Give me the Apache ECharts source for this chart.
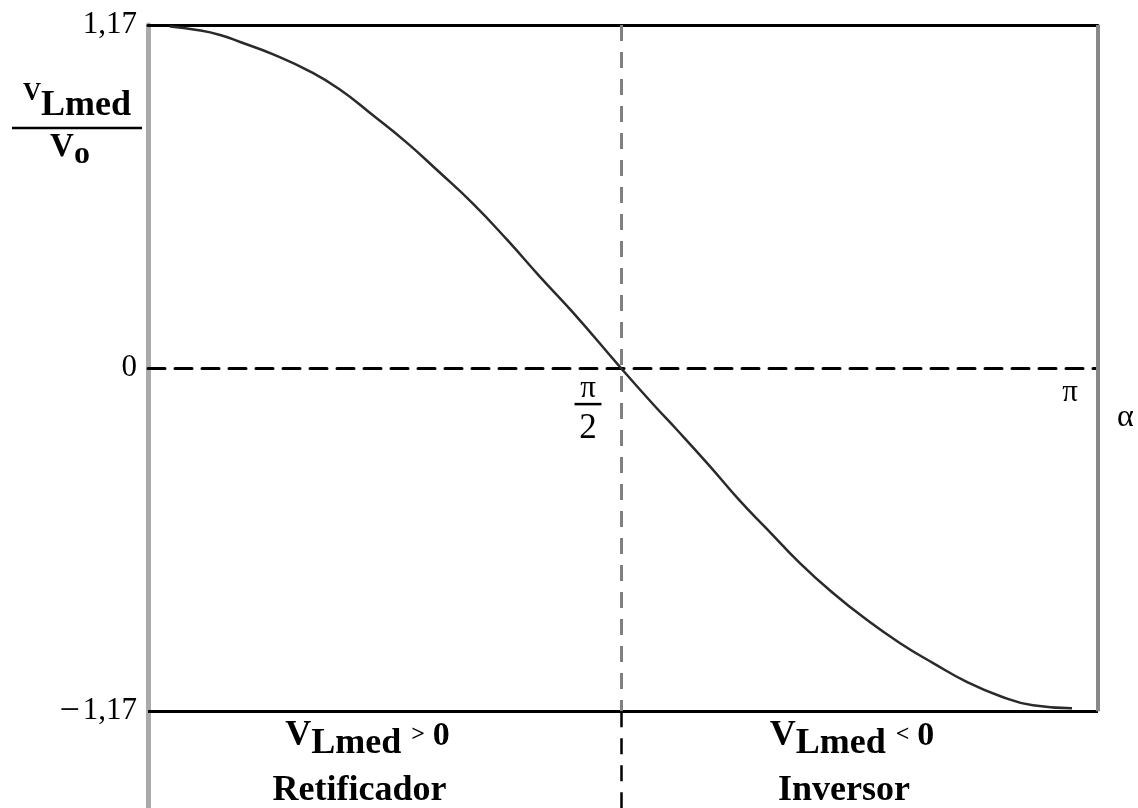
<!DOCTYPE html>
<html><head><meta charset="utf-8">
<script src="https://cdn.jsdelivr.net/npm/echarts@6/dist/echarts.min.js"></script>
<style>html,body{margin:0;padding:0;background:#fff;}#c{width:1138px;height:808px;}</style>
</head><body><div id="c"></div>
<script>
// alpha in degrees (π = 180)
const alphaDeg = [0, 5.4, 10.0, 14.0, 20.6, 27.9, 33.9, 40.5, 47.3, 53.5, 60.5, 67.3, 73.8, 80.4, 90, 96.5, 101.2, 107.5, 113.7, 119.1, 125.7, 132.3, 139.1, 145.7, 152.3, 159.0, 165.6, 172.2, 180];
const vRatio   = [1.165, 1.153, 1.136, 1.112, 1.070, 1.012, 0.950, 0.862, 0.768, 0.672, 0.560, 0.437, 0.312, 0.190, 0, -0.125, -0.211, -0.330, -0.452, -0.548, -0.665, -0.767, -0.859, -0.938, -1.006, -1.070, -1.118, -1.150, -1.160];
const xTickValues = [90, 180];
const xTickLabels = ['π/2', 'π'];
const yTickValues = [-1.17, 0, 1.17];
const yTickLabels = ['−1,17', '0', '1,17'];
const regionBounds = [[-4.39, 90], [90, 185.19]];
const regionSigns  = ['>', '<'];
const regionNames  = ['Retificador', 'Inversor'];
const axisName = 'α';

const X_MIN = -4.39, X_MAX = 185.19, Y_MIN = -1.50, Y_MAX = 1.17;
const SERIF = '"Liberation Serif", "Times New Roman", serif';

const chart = echarts.init(document.getElementById('c'), null, {renderer: 'canvas'});

function findIdx(arr, v) { return arr.findIndex(a => Math.abs(a - v) < 1e-6); }

const regionOffsets = [[-21, 9], [-11.5, 9]];

function tickLabel(lab) {
  if (lab.indexOf('/') >= 0) {
    const p = lab.split('/');
    return '{n|' + p[0] + '}{sp|}\n{b|}{sp|}\n{d|' + p[1] + '}{sp|}';
  }
  return '{p|' + lab + '}';
}

function yLabel(v) {
  const lab = yTickLabels[findIdx(yTickValues, v)] || '';
  if (lab.charAt(0) === '−') return '{m|−}' + lab.slice(1);
  return lab;
}

const option = {
  animation: false,
  textStyle: {fontFamily: SERIF, color: '#000'},
  grid: {left: 148, right: 40, top: 25, bottom: 0, containLabel: false, outerBoundsMode: 'none'},
  xAxis: [{
    type: 'value', min: X_MIN, max: X_MAX,
    axisLine: {show: true, onZero: true, lineStyle: {color: '#000', width: 3, type: [17, 10]}},
    axisTick: {show: false},
    splitLine: {show: false},
    axisLabel: {show: false}
  }, {
    type: 'value', min: X_MIN, max: X_MAX, position: 'top',
    axisLine: {show: true, onZero: false, lineStyle: {color: '#000', width: 3}},
    axisTick: {show: false}, axisLabel: {show: false}, splitLine: {show: false}
  }],
  yAxis: {
    type: 'value', min: Y_MIN, max: Y_MAX,
    axisLine: {show: true, onZero: false, lineStyle: {color: '#aaaaaa', width: 5}},
    axisTick: {show: false},
    splitLine: {show: false},
    axisLabel: {
      customValues: yTickValues,
      margin: 11,
      fontFamily: SERIF, fontSize: 31, color: '#000',
      formatter: yLabel,
      rich: {m: {fontFamily: SERIF, fontSize: 36, color: '#000', padding: [0, 3, 0, 0]}}
    }
  },
  graphic: [{
    type: 'text', x: 77, y: 86,
    style: {
      text: '{v|V}{s|Lmed}\n{b|}\n{v2|V}{o|o}',
      align: 'center', verticalAlign: 'top',
      rich: {
        v: {fontFamily: SERIF, fontSize: 25, fontWeight: 'bold', lineHeight: 25, padding: [0, 0, 25, 0], fill: '#000'},
        s: {fontFamily: SERIF, fontSize: 36, fontWeight: 'bold', lineHeight: 40, fill: '#000'},
        b: {width: 130, height: 2.5, backgroundColor: '#000', lineHeight: 4},
        v2: {fontFamily: SERIF, fontSize: 33, fontWeight: 'bold', lineHeight: 34, fill: '#000'},
        o: {fontFamily: SERIF, fontSize: 32, fontWeight: 'bold', lineHeight: 34, padding: [15, 14, 0, 0], fill: '#000'}
      }
    }
  }, {
    type: 'text', x: 1117, y: 418,
    style: {text: axisName, font: '32px ' + SERIF, fill: '#000', align: 'left', verticalAlign: 'middle'}
  }],
  series: [{
    type: 'line',
    data: alphaDeg.map((a, i) => [a, vRatio[i]]),
    showSymbol: false, smooth: true, clip: false, silent: true,
    lineStyle: {color: '#2a2a2a', width: 2.5},
    markPoint: {
      silent: true, symbol: 'circle', symbolSize: 0,
      itemStyle: {color: 'rgba(0,0,0,0)'},
      label: {
        show: true, position: 'bottom', distance: 0,
        formatter: function (p) { return tickLabel(p.name); },
        rich: {
          n: {fontFamily: SERIF, fontSize: 31, lineHeight: 35, padding: [6, 0, 0, 0], color: '#000'},
          b: {width: 27, height: 2.5, backgroundColor: '#000', lineHeight: 2},
          d: {fontFamily: SERIF, fontSize: 35, lineHeight: 48, color: '#000'},
          sp: {width: 66, height: 2, lineHeight: 2},
          p: {fontFamily: SERIF, fontSize: 31, lineHeight: 49, color: '#000', padding: [0, 4, 0, 0]}
        }
      },
      data: xTickValues.map((v, i) => ({name: xTickLabels[i], coord: [v, 0]}))
    },
    markLine: {
      symbol: 'none', silent: true, label: {show: false},
      data: [
        {yAxis: -1.17, lineStyle: {color: '#000', width: 3, type: 'solid'}},
        [{coord: [90, Y_MAX], lineStyle: {color: '#808080', width: 3, type: [16, 11]}}, {coord: [90, -1.17]}],
        [{coord: [90, -1.17], lineStyle: {color: '#000', width: 2.5, type: [16, 11]}}, {coord: [90, Y_MIN]}],
        [{coord: [X_MAX, Y_MAX], lineStyle: {color: '#888', width: 4, type: 'solid'}}, {coord: [X_MAX, -1.17]}]
      ]
    },
    markArea: {
      silent: true,
      itemStyle: {color: 'rgba(0,0,0,0)'},
      data: regionBounds.map((r, i) => [
        {xAxis: r[0], yAxis: -1.17,
         label: {show: true, position: 'inside', offset: regionOffsets[i],
           formatter: '{v|V}{s|Lmed}{g|' + regionSigns[i] + '}{z|0}\n{t|' + regionNames[i] + '}',
           rich: {
             v: {fontFamily: SERIF, fontSize: 36, fontWeight: 'bold', color: '#000', lineHeight: 36, padding: [0, 0, 16, 8]},
             s: {fontFamily: SERIF, fontSize: 36, fontWeight: 'bold', color: '#000', lineHeight: 44},
             g: {fontFamily: SERIF, fontSize: 24, fontWeight: 'bold', color: '#000', lineHeight: 24, padding: [0, 8, 18, 10]},
             z: {fontFamily: SERIF, fontSize: 34, fontWeight: 'bold', color: '#000', lineHeight: 34, padding: [0, 0, 15, 0]},
             t: {fontFamily: SERIF, fontSize: 36, fontWeight: 'bold', color: '#000', lineHeight: 50, padding: [0, 8, 0, 0]}
           }}},
        {xAxis: r[1], yAxis: Y_MIN}
      ])
    }
  }]
};
chart.setOption(option);
</script></body></html>
